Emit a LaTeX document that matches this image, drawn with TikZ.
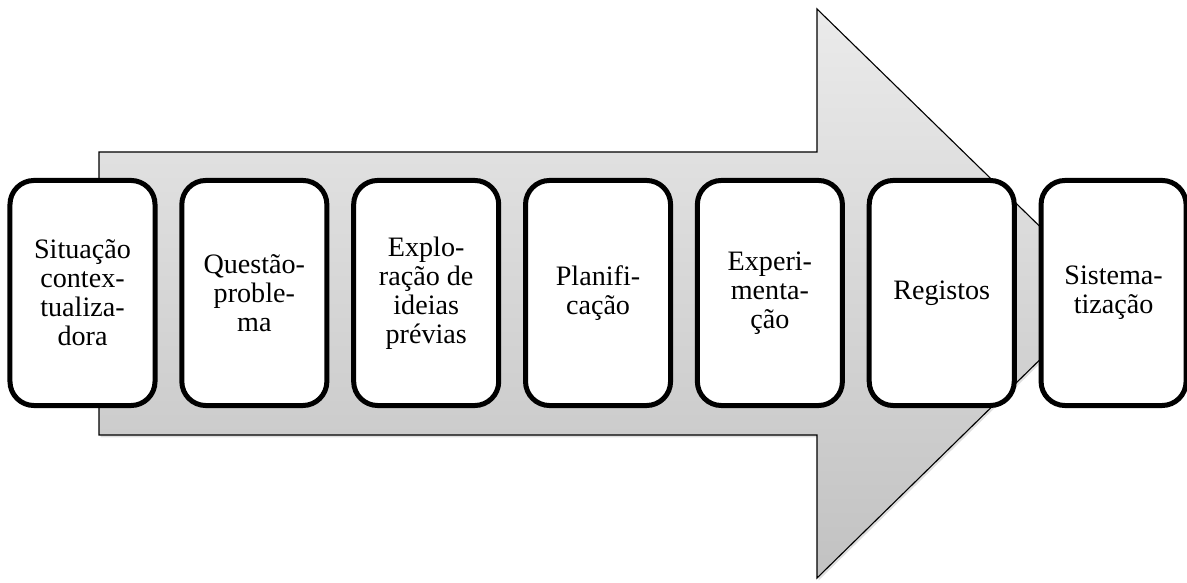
\documentclass[tikz,border=0pt]{standalone}
\usepackage{fontspec}
\setmainfont{Liberation Serif}
\usetikzlibrary{positioning}
\usetikzlibrary{shadows}

\begin{document}
\begin{tikzpicture}[x=0.025cm,y=0.025cm,
  card/.style={draw=black,line width=0.125cm,fill=white,rounded corners=0.6cm,minimum width=3.625cm,minimum height=5.625cm,inner sep=0pt,outer sep=0pt,align=center,font=\fontsize{20}{20.6}\selectfont}]
\useasboundingbox (0,0) rectangle (1187,583);
\draw[black,line width=0.8pt,top color=black!8,bottom color=black!24,drop shadow={shadow xshift=0.04cm,shadow yshift=-0.06cm,opacity=0.25}] (99,148) -- (99,431) -- (817,431) -- (817,574) -- (1108,290) -- (817,5) -- (817,148) -- cycle;

\node[card] (s1) at (82.5,290) {Situação\\contex-\\tualiza-\\dora};
\node[card,right=0.67cm of s1] (s2) {Questão-\\proble-\\ma};
\node[card,right=0.67cm of s2] (s3) {Explo-\\ração de\\ideias\\prévias};
\node[card,right=0.67cm of s3] (s4) {Planifi-\\cação};
\node[card,right=0.67cm of s4] (s5) {Experi-\\menta-\\ção};
\node[card,right=0.67cm of s5] (s6) {Registos};
\node[card,right=0.67cm of s6] (s7) {Sistema-\\tização};

\end{tikzpicture}
\end{document}
